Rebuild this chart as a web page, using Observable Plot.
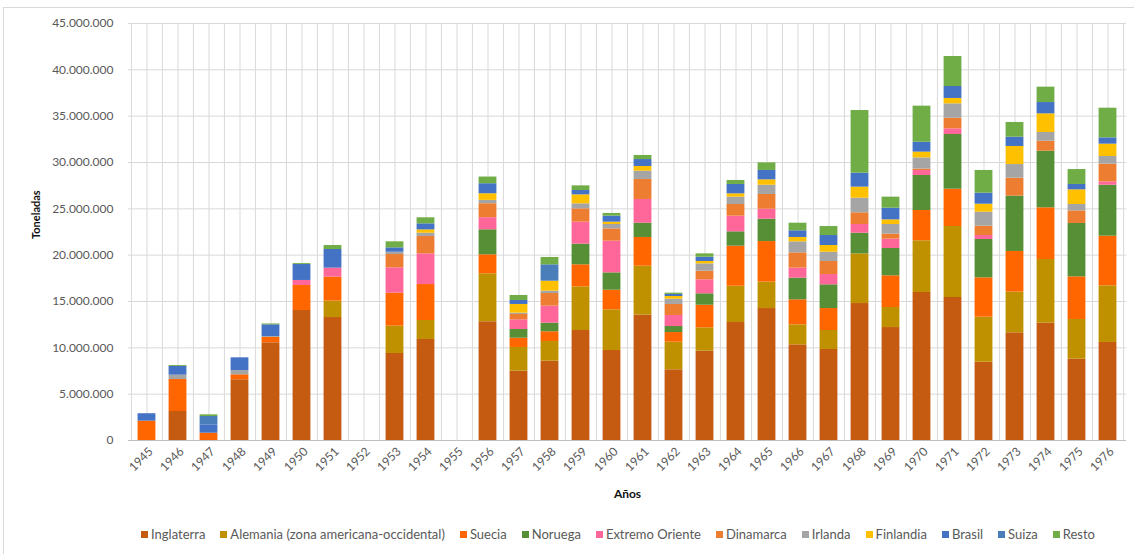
<!DOCTYPE html>
<html>
<head>
<meta charset="utf-8">
<script src="https://cdn.jsdelivr.net/npm/d3@7"></script>
<script src="https://cdn.jsdelivr.net/npm/@observablehq/plot@0.6"></script>
<style>
  body { margin: 0; background: #fff; font-family: Lato, "Liberation Sans", sans-serif; }
  #wrap { position: relative; width: 1134px; height: 554px; overflow: hidden; background: #fff; }
  #frame { position: absolute; left: 3px; top: 7px; width: 1160px; height: 600px; border: 1px solid #d9d9d9; box-sizing: border-box; pointer-events: none; }
  #chart { position: absolute; left: 0; top: 0; }
  #legend { position: absolute; left: 100px; width: 1036px; top: 526px; height: 16px; display: flex; justify-content: center; align-items: center; gap: 15px; font-size: 13px; color: #595959; white-space: nowrap; }
  .item { display: flex; align-items: center; gap: 3px; }
  .sw { width: 7px; height: 7px; display: inline-block; }
</style>
</head>
<body>
<div id="wrap">
  <div id="frame"></div>
  <div id="chart"></div>
  <div id="legend"></div>
</div>
<script>
// ---- Data (toneladas) ----
const years = [1945,1946,1947,1948,1949,1950,1951,1952,1953,1954,1955,1956,1957,1958,1959,1960,1961,1962,1963,1964,1965,1966,1967,1968,1969,1970,1971,1972,1973,1974,1975,1976];

const seriesNames = ["Inglaterra","Alemania (zona americana-occidental)","Suecia","Noruega","Extremo Oriente","Dinamarca","Irlanda","Finlandia","Brasil","Suiza","Resto"];
const seriesColors = ["#C55A11","#BF9000","#FF6600","#568F35","#FF6699","#ED7D31","#A5A5A5","#FFC000","#4472C4","#4A7EBB","#70AD47"];

const inglaterra = [0,3130000,0,6550000,10540000,14030000,13270000,0,9390000,10900000,0,12810000,7480000,8560000,11870000,9710000,13530000,7630000,9640000,12730000,14240000,10320000,9820000,14780000,12190000,15970000,15430000,8450000,11620000,12660000,8780000,10580000];
const alemania = [0,0,0,0,0,0,1770000,0,2950000,2050000,0,5180000,2560000,2120000,4710000,4390000,5280000,2980000,2520000,3920000,2850000,2160000,2050000,5360000,2160000,5580000,7660000,4860000,4390000,6870000,4280000,6110000];
const suecia = [2090000,3450000,790000,540000,580000,2700000,2590000,0,3560000,3880000,0,2050000,1000000,1050000,2380000,2120000,3100000,1040000,2440000,4320000,4380000,2700000,2370000,0,3420000,3270000,4030000,4240000,4390000,5580000,4600000,5360000];
const noruega = [0,0,0,0,0,0,0,0,0,0,0,2700000,940000,930000,2230000,1870000,1540000,650000,1230000,1550000,2410000,2340000,2560000,2230000,2950000,3780000,5900000,4140000,5970000,6110000,5760000,5500000];
const extremoOriente = [0,0,0,0,0,540000,970000,0,2730000,3310000,0,1300000,1040000,1840000,2370000,3420000,2560000,1190000,1510000,1690000,1080000,1080000,1110000,940000,1010000,540000,610000,430000,0,0,0,360000];
const dinamarca = [0,0,0,0,0,0,0,0,1440000,1870000,0,1510000,580000,1360000,1440000,1330000,2160000,1190000,930000,1260000,1590000,1650000,1410000,1260000,540000,150000,1150000,1010000,1940000,1080000,1360000,1910000];
const irlanda = [0,470000,0,460000,100000,0,0,0,250000,360000,0,360000,140000,260000,540000,470000,890000,570000,790000,790000,1000000,1190000,1000000,1580000,1040000,1210000,1550000,1510000,1470000,940000,690000,830000];
const finlandia = [0,0,0,0,0,0,0,0,0,360000,0,720000,940000,1070000,970000,250000,510000,290000,260000,360000,580000,470000,720000,1190000,500000,620000,580000,860000,1950000,2010000,1580000,1330000];
const brasil = [800000,940000,900000,1370000,1260000,1720000,2010000,0,470000,650000,0,1080000,430000,0,470000,650000,750000,220000,460000,1010000,1010000,720000,1080000,1510000,1260000,1070000,1290000,1190000,1000000,1220000,580000,680000];
const suiza = [0,0,900000,0,0,0,0,0,0,0,0,0,0,1770000,0,0,0,0,0,0,0,0,0,0,0,0,0,0,0,0,0,0];
const resto = [0,100000,180000,0,100000,100000,430000,0,650000,650000,0,720000,540000,790000,500000,290000,440000,140000,360000,430000,820000,820000,970000,6760000,1190000,3890000,3240000,2450000,1590000,1660000,1610000,3200000];

const yTicks = [0,5000000,10000000,15000000,20000000,25000000,30000000,35000000,40000000,45000000];
const xTitle = "Años";
const yTitle = "Toneladas";

// ---- Build table ----
const seriesValues = [inglaterra, alemania, suecia, noruega, extremoOriente, dinamarca, irlanda, finlandia, brasil, suiza, resto];
const yearLabels = years.map(String);
const table = [];
seriesNames.forEach((s, i) => seriesValues[i].forEach((v, j) => table.push({year: yearLabels[j], serie: s, value: v})));

const fmt = d3.formatLocale({decimal: ",", thousands: ".", grouping: [3], currency: ["", ""]}).format(",d");

const W = 1134, H = 515, ML = 128, MR = 8, MT = 23, MB = H - 440;
const step = (W - ML - MR) / years.length;
const inset = (step - 18) / 2;
const grid = "#d9d9d9";

const chart = Plot.plot({
  width: W, height: H,
  marginLeft: ML, marginRight: MR, marginTop: MT, marginBottom: MB,
  style: {fontFamily: "Lato, 'Liberation Sans', sans-serif", fontSize: "12px", color: "#595959", background: "transparent", overflow: "visible"},
  x: {domain: yearLabels, padding: 0, axis: null},
  y: {domain: [0, 45000000], axis: null},
  color: {domain: seriesNames, range: seriesColors},
  marks: [
    Plot.ruleY(yTicks, {stroke: grid, strokeWidth: 1}),
    Plot.ruleX(yearLabels, {stroke: grid, y1: 0, y2: 45000000}),
    Plot.ruleX(yearLabels, {stroke: grid, y1: 0, y2: 45000000, dx: -step / 2}),
    Plot.ruleX(yearLabels.slice(-1), {stroke: grid, y1: 0, y2: 45000000, dx: step / 2}),
    Plot.barY(table, {x: "year", y: "value", fill: "serie", order: seriesNames, insetLeft: inset, insetRight: inset}),
    Plot.ruleY([0], {stroke: "#bfbfbf"}),
    Plot.axisY({ticks: yTicks, tickFormat: fmt, tickSize: 0, tickPadding: 15, label: null, fill: "#595959", fontSize: 12}),
    Plot.axisX({tickRotate: -45, tickSize: 0, tickPadding: 9, dx: 4, label: null, fill: "#595959", fontSize: 12}),
    Plot.text([yTitle], {frameAnchor: "left", dx: -92, dy: 7, rotate: -90, fontWeight: "bold", fontSize: 11, fill: "#111"}),
    Plot.text([xTitle], {frameAnchor: "bottom", dy: 57, fontWeight: "bold", fontSize: 12, fill: "#111"})
  ]
});
document.getElementById("chart").appendChild(chart);

// ---- Legend ----
const legend = document.getElementById("legend");
seriesNames.forEach((s, i) => {
  const item = document.createElement("span");
  item.className = "item";
  const sw = document.createElement("span");
  sw.className = "sw";
  sw.style.background = seriesColors[i];
  const t = document.createElement("span");
  t.textContent = s;
  item.appendChild(sw);
  item.appendChild(t);
  legend.appendChild(item);
});
</script>
</body>
</html>
